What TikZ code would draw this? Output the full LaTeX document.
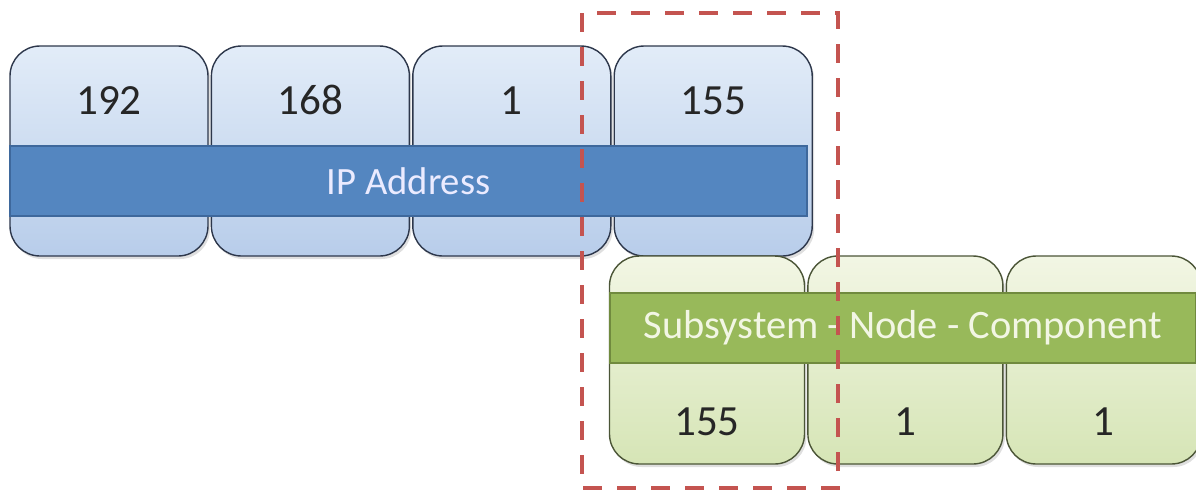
\documentclass[tikz,border=0pt]{standalone}
\usepackage{fontspec}
\setmainfont{Carlito}
\usepackage{tikz}
\usetikzlibrary{positioning, shadows}

\definecolor{bluetop}{RGB}{226,236,248}
\definecolor{bluebot}{RGB}{184,205,234}
\definecolor{blueline}{RGB}{45,55,75}
\definecolor{blueband}{RGB}{84,134,192}
\definecolor{bluebandline}{RGB}{62,104,156}
\definecolor{greentop}{RGB}{242,246,228}
\definecolor{greenbot}{RGB}{214,229,182}
\definecolor{greenline}{RGB}{75,85,55}
\definecolor{greenband}{RGB}{152,185,90}
\definecolor{greenbandline}{RGB}{112,138,62}
\definecolor{dashred}{RGB}{196,84,80}

\begin{document}
\begin{tikzpicture}[
            node distance = 0.04cm, % gap between boxes
            thick % line style
        ]

        \tikzstyle{ipbox}=[
            draw = blueline,
            rounded corners = 0.6cm,
            top color = bluetop,
            bottom color = bluebot,
            minimum width = 3.96cm,
            minimum height = 4.2cm,
            drop shadow = {opacity = 0.25, shadow xshift = 0.04cm, shadow yshift = -0.06cm}
        ]
        \tikzstyle{subbox}=[
            ipbox,
            draw = greenline,
            top color = greentop,
            bottom color = greenbot,
            minimum width = 3.9cm,
            minimum height = 4.16cm
        ]
        \tikzstyle{ipband}=[
            draw = bluebandline,
            fill = blueband,
            text = white!92!blue,
            font = \fontsize{22}{26}\selectfont,
            minimum width = 15.94cm,
            minimum height = 1.4cm
        ]
        \tikzstyle{subband}=[
            ipband,
            draw = greenbandline,
            fill = greenband,
            text = greentop,
            font = \fontsize{23}{27}\selectfont,
            minimum width = 11.72cm
        ]
        \tikzstyle{num}=[
            text = black!85,
            font = \fontsize{24.5}{28}\selectfont
        ]

        \useasboundingbox (0,0) rectangle (23.92,-9.86);

        % IP address
        \node[ipbox] (b1) at (2.18,-3.02) {};
        \node[ipbox] (b2) [right=of b1] {};
        \node[ipbox] (b3) [right=of b2] {};
        \node[ipbox] (b4) [right=of b3] {};

        \node[ipband] (ip) at (8.17,-3.62) {IP Address};

        \node[num] (n1) at ([yshift=-1.1cm] b1.north) {192};
        \node[num] (n2) at ([yshift=-1.1cm] b2.north) {168};
        \node[num] (n3) at ([yshift=-1.1cm] b3.north) {1};
        \node[num] (n4) at ([yshift=-1.1cm] b4.north) {155};

        % subsystem - node - component
        \node[subbox] (g1) at (14.14,-7.2) {};
        \node[subbox] (g2) [right=of g1] {};
        \node[subbox] (g3) [right=of g2] {};

        \node[subband] (snc) at (18.06,-6.56) {Subsystem - Node - Component};

        \node[num] (m1) at ([yshift=0.86cm] g1.south) {155};
        \node[num] (m2) at ([yshift=0.86cm] g2.south) {1};
        \node[num] (m3) at ([yshift=0.86cm] g3.south) {1};

        % the octet that is shared
        \draw[dashred, line width = 2.2pt, dash pattern = on 0.38cm off 0.3cm]
            (11.64,-0.26) rectangle (16.76,-9.76);

\end{tikzpicture}
\end{document}
